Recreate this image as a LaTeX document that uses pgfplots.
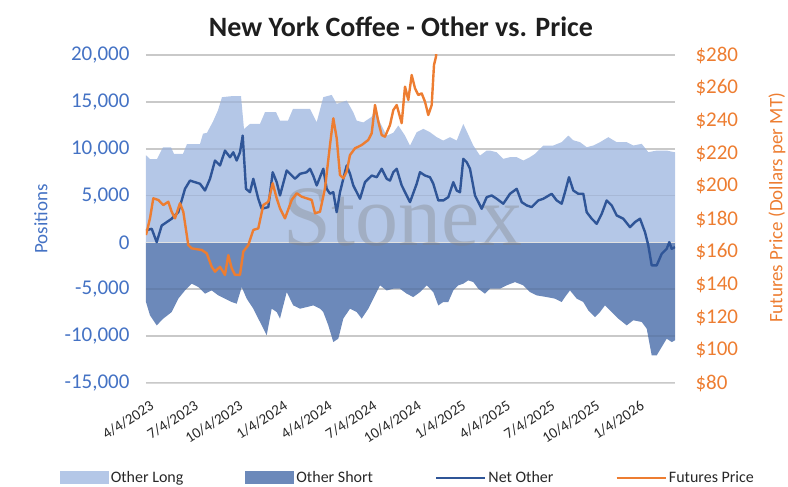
\documentclass[border=0pt]{standalone}
\usepackage{fontspec}
\setmainfont{Carlito}
\newfontfamily\wmfont{Liberation Serif}
\usepackage{pgfplots}
\pgfplotsset{compat=1.18}
\definecolor{lightc}{RGB}{180,199,231}
\definecolor{darkc}{RGB}{108,137,186}
\definecolor{netc}{RGB}{47,85,151}
\definecolor{pricec}{RGB}{237,125,49}
\definecolor{leftc}{RGB}{68,114,196}
\definecolor{gridc}{RGB}{217,217,217}
\definecolor{labc}{RGB}{40,40,40}
\definecolor{titc}{RGB}{30,30,30}
\pgfplotsset{
  arealeg/.style={legend image code/.code={\fill[##1] (0pt,-6pt) rectangle (49pt,7pt);}},
  lineleg/.style={legend image code/.code={\draw[##1] (0pt,0pt) -- (49pt,0pt);}},
}
\begin{document}
\begin{tikzpicture}
\path[use as bounding box] (-146pt,-104pt) rectangle (642pt,383pt);
\begin{axis}[
  at={(0pt,0pt)}, anchor=south west,
  scale only axis, width=529pt, height=328pt,
  xmin=0, xmax=529, ymin=-15000, ymax=20000,
  axis line style={draw=none}, major tick length=0pt,
  scaled y ticks=false,
  ytick={-15000,-10000,-5000,0,5000,10000,15000,20000},
  yticklabels={{-15,000},{-10,000},{-5,000},0,{5,000},{10,000},{15,000},{20,000}},
  ymajorgrids, grid style={gridc, line width=1.6pt},
  xtick={0,44.6,89.2,133.8,178.4,223,267.6,312.2,356.8,401.4,446,490.6},
  xticklabels={4/4/2023,7/4/2023,10/4/2023,1/4/2024,4/4/2024,7/4/2024,10/4/2024,1/4/2025,4/4/2025,7/4/2025,10/4/2025,1/4/2026},
  xticklabel style={xshift=4pt, yshift=-12pt, rotate=33, anchor=north east, font=\fontsize{15}{15}\selectfont, text=labc},
  yticklabel style={font=\fontsize{21}{21}\selectfont, text=leftc, xshift=-13pt},
  ylabel={Positions},
  ylabel style={at={(axis description cs:-0.1985,0.5)}, anchor=center, font=\fontsize{19}{19}\selectfont, text=leftc},
]
\addplot[fill=lightc, draw=none] coordinates {
(0,9300) (4,8900) (11,8900) (17,10150) (25,10150) (28,9450) (37,9450) (41,10500) (54,10500) (57,11600) (61,11700) (67,12900) (72,14100) (76,15500) (85,15600) (95,15600) (98,12100) (104,12650) (114,12650) (119,13900) (130,13900) (134,13000) (142,13000) (147,14250) (164,14250) (170.7,12830) (177.3,15500) (185.7,15740) (190.7,14780) (200.7,15140) (207.3,13890) (210.7,13000) (217.3,12800) (225.7,13400) (229,14420) (234,12800) (240.7,11400) (247.3,11700) (252.3,12470) (259,11400) (264,10340) (270.7,11760) (277.3,12120) (284,11760) (290.7,11230) (297.3,10870) (304,11230) (310.7,10870) (317.3,12650) (322.3,11500) (327.3,10340) (334,9270) (340.7,9800) (344,9800) (350.7,9620) (357.3,8920) (364,9100) (370.7,9100) (377.3,8740) (384,9100) (389,9450) (397.3,10340) (407.3,10340) (415.7,10700) (422.3,11400) (427.3,10900) (434,10700) (440.7,10160) (447.3,10340) (454,10700) (462.3,11230) (470.7,10700) (480.7,10700) (487.3,10340) (495.7,10520) (502.3,9630) (510.7,9800) (520.7,9800) (529,9620)
} \closedcycle;
\addplot[fill=darkc, draw=none] coordinates {
(0,-6360) (4,-7780) (10.7,-8850) (17.3,-8130) (25.7,-7430) (32.3,-6000) (39,-5120) (45.7,-4400) (52.3,-4760) (59,-5470) (65.7,-5120) (72.3,-5650) (79,-6000) (85.7,-6360) (90.7,-6540) (95.7,-4760) (100.7,-6000) (107.3,-7070) (114,-8490) (120.7,-9910) (125.7,-7070) (130.7,-7430) (134,-8130) (140.7,-5300) (147.3,-6720) (154,-7070) (160.7,-6900) (167.3,-6720) (174,-7070) (177.3,-7430) (182.3,-8850) (187.3,-10630) (192.3,-10270) (197.3,-8130) (204,-7070) (210.7,-7430) (215.7,-8130) (222.3,-7070) (227.3,-6000) (234,-4580) (240.7,-5120) (247.3,-4940) (254,-4940) (260.7,-5470) (267.3,-5830) (274,-5300) (280.7,-4580) (287.3,-5300) (292.3,-6720) (297.3,-6360) (302.3,-6360) (307.3,-5120) (312.3,-4580) (317.3,-4400) (322.3,-4050) (327.3,-4230) (332.3,-4940) (339,-5470) (344,-4940) (354,-4940) (360.7,-4580) (369,-4230) (377.3,-4580) (384,-5300) (390.7,-5650) (400.7,-5830) (409,-6000) (415.7,-6360) (419,-5830) (424,-5120) (430.7,-6000) (437.3,-6360) (442.3,-7250) (449,-7960) (454,-7430) (459,-6720) (465.7,-7430) (472.3,-8130) (480.7,-8850) (487.3,-8310) (495.7,-8490) (500.7,-9200) (505.7,-12050) (510.7,-12050) (515.7,-11160) (520.7,-10270) (525.7,-10630) (529,-10450)
} \closedcycle;
\foreach \g in {-15000,-10000,-5000,5000,10000,15000,20000} {
  \edef\temp{\noexpand\draw[black, opacity=0.07, line width=1.6pt] (axis cs:0,\g) -- (axis cs:529,\g);}
  \temp
}
\draw[gridc!80!white, line width=1.8pt] (axis cs:0,0) -- (axis cs:529,0);
\node[font=\wmfont\fontsize{86}{86}\selectfont, text=gray, opacity=0.35, anchor=base west] at (axis cs:134,-300) {Stonex};
\addplot[netc, line width=2.4pt, line join=round] coordinates {
(0,1280) (5.7,1460) (10.7,30) (15.7,1800) (25.7,2530) (32.3,3230) (39,5720) (44,6600) (54,6260) (59,5540) (64,6790) (69,8740) (74,8210) (79,9800) (84,9090) (87.3,9620) (90.7,8740) (94,9620) (96.7,11400) (100,5720) (104,5360) (107.3,6790) (112.3,4660) (115.7,3590) (122.3,3770) (126.7,7490) (130.7,6430) (134,5010) (140.7,7680) (149,6790) (154,7320) (160.7,7490) (164,7860) (167.3,7100) (170.7,6080) (177.3,7860) (180.7,5720) (184,5200) (187.3,5360) (190.7,3230) (194,5360) (197.3,6790) (200.7,8210) (204,7320) (207.3,6080) (214,4660) (219,6430) (225.7,7140) (230.7,6960) (235.7,7860) (240.7,6790) (244,6600) (247.3,7490) (250.7,7860) (255.7,6080) (264,4300) (270.7,6260) (274,7490) (279,7140) (284,6960) (287.3,6260) (292.3,4480) (297.3,4480) (302.3,4830) (307.3,6430) (310.7,5540) (314,5360) (317.3,8920) (320.7,8560) (324,7860) (329,5010) (335.7,3590) (340.7,4830) (345.7,5010) (350.7,4660) (357.3,4130) (364,5190) (370.7,5720) (375.7,4300) (380.7,3950) (385.7,3770) (392.3,4480) (397.3,4660) (405.7,5190) (410.7,4480) (415.7,4130) (419,5360) (423,6960) (427.3,5540) (432.3,5190) (437.3,5190) (440.7,3230) (445.7,2530) (450.7,1990) (455.7,3050) (460.7,4480) (465.7,3950) (470.7,2880) (477.3,2530) (484,1630) (489,2170) (494,2530) (499,1100) (502.3,-320) (505.7,-2450) (510.7,-2450) (515.7,-1210) (520.7,-680) (523.3,30) (525.7,-680) (529,-500)
};
\end{axis}
\begin{axis}[
  at={(0pt,0pt)}, anchor=south west,
  scale only axis, width=529pt, height=328pt,
  xmin=0, xmax=529, ymin=80, ymax=280,
  axis line style={draw=none}, major tick length=0pt,
  xtick=\empty,
  yticklabel pos=right,
  ytick={80,100,120,140,160,180,200,220,240,260,280},
  yticklabels={\$80,\$100,\$120,\$140,\$160,\$180,\$200,\$220,\$240,\$260,\$280},
  yticklabel style={font=\fontsize{21}{21}\selectfont, text=pricec, xshift=17pt},
  ylabel={Futures Price (Dollars per MT)},
  ylabel style={at={(axis description cs:1.1928,0.534)}, anchor=center, font=\fontsize{19}{19}\selectfont, text=pricec},
  legend columns=4,
  legend style={at={(axis description cs:0.495,-0.29)}, anchor=center, draw=none, fill=none,
    font=\fontsize{16}{16}\selectfont, text=labc,
    /tikz/every even column/.append style={column sep=60pt}},
]
\addlegendimage{fill=lightc, draw=none, arealeg}
\addlegendentry{Other Long}
\addlegendimage{fill=darkc, draw=none, arealeg}
\addlegendentry{Other Short}
\addlegendimage{netc, line width=2.4pt, lineleg}
\addlegendentry{Net Other}
\addplot[pricec, line width=2.4pt, line join=round, lineleg] coordinates {
(0,170.2) (4,180.4) (7.3,192.6) (12.3,191.6) (17.3,188.5) (22.3,190.5) (25.7,184.4) (29,180.4) (34,189.6) (37.3,184.4) (42.3,164.1) (45.7,162.1) (55.7,161.1) (60.7,159.1) (65.7,150.9) (69,147.9) (74,150.9) (79,145.9) (82.3,158) (85.7,150) (89,145.9) (94,145.9) (97.3,160.1) (102.3,164.1) (107.3,173.3) (112.3,174.3) (117.3,188.5) (122.3,190.5) (126.7,201.8) (130.7,192.6) (134,186.5) (139,180.4) (145.7,191.6) (150.7,195.7) (155.7,193.6) (160.7,192.6) (165.7,191.6) (169,183.5) (174,184.4) (179,198.7) (184,225.1) (187.3,241.4) (190.7,229.2) (194,206.8) (197.3,204.8) (200.7,208.9) (204,219) (209,223.1) (215.7,225.1) (222.3,228.2) (225.7,232.3) (229,249.5) (232.3,239.4) (235.7,231.2) (239,230.2) (244,237.3) (247.3,246.4) (250.7,249.5) (255.7,238.4) (259,260.7) (262.3,252.6) (265.7,267.8) (269,259.7) (272.3,255.6) (275.7,256.6) (279,251.5) (282.3,243.4) (285.7,249.5) (288,273.9) (290,279) (292,295)
};
\addlegendentry{Futures Price}
\end{axis}
\node[font=\bfseries\fontsize{28}{28}\selectfont, text=titc] at (255pt,356pt) {New York Coffee - Other vs. Price};
\end{tikzpicture}
\end{document}
